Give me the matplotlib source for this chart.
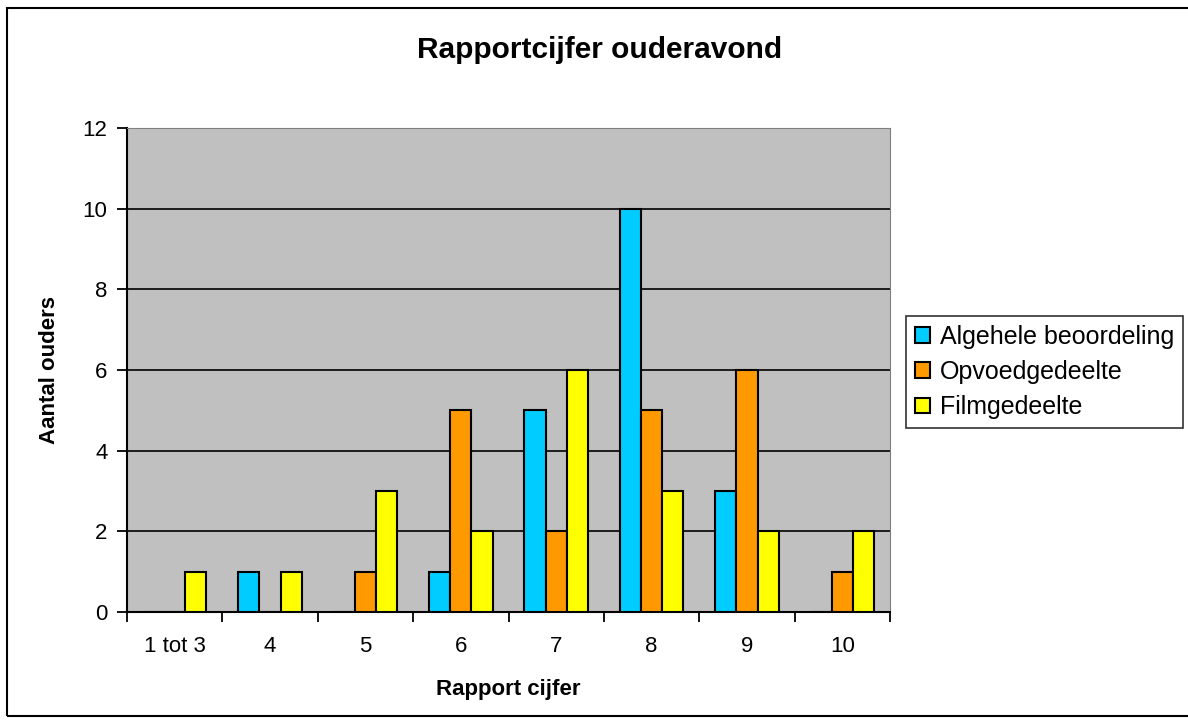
import numpy as np
import matplotlib
matplotlib.use('Agg')
import matplotlib.pyplot as plt
from matplotlib.patches import Rectangle

plt.rcParams['font.family'] = ['Liberation Sans', 'DejaVu Sans']

categorieen = ['1 tot 3', '4', '5', '6', '7', '8', '9', '10']
algehele = [0, 1, 0, 1, 5, 10, 3, 0]
opvoed = [0, 0, 1, 5, 2, 5, 6, 1]
film = [1, 1, 3, 2, 6, 3, 2, 2]

reeksen = [
    ('Algehele beoordeling', algehele, '#00CCFF'),
    ('Opvoedgedeelte', opvoed, '#FF9900'),
    ('Filmgedeelte', film, '#FFFF00'),
]

fig = plt.figure(figsize=(11.88, 7.22), dpi=100)
ax = fig.add_axes([127 / 1188, 1 - 612 / 722, (890 - 127) / 1188, (612 - 128) / 722])
ax.set_facecolor('#C0C0C0')

# rand om de hele grafiek
fig.patches.append(Rectangle((7 / 1188, 1 - 716 / 722), 1.2, (716 - 8) / 722,
                             transform=fig.transFigure, fill=False,
                             edgecolor='black', linewidth=1.5))

x = np.arange(len(categorieen))
w = 0.222
for i, (naam, waarden, kleur) in enumerate(reeksen):
    ax.bar(x + (i - 1) * w, waarden, width=w, color=kleur, edgecolor='black',
           linewidth=1.5, label=naam, zorder=3)

ax.set_ylim(0, 12)
ax.set_xlim(-0.5, len(categorieen) - 0.5)
ax.set_yticks(range(0, 13, 2))
ax.yaxis.grid(True, color='black', linewidth=1.2, zorder=1)
ax.set_axisbelow(True)

ax.set_xticks(x)
ax.set_xticklabels(categorieen, fontsize=16)
ax.set_xticks(np.arange(-0.5, len(categorieen), 1), minor=True)
ax.tick_params(axis='x', which='major', length=0, pad=17)
ax.tick_params(axis='x', which='minor', length=7, width=1.3, color='black')
ax.tick_params(axis='y', length=7, width=1.3, labelsize=16, pad=7)

ax.spines['left'].set_color('black')
ax.spines['left'].set_linewidth(1.5)
ax.spines['bottom'].set_color('black')
ax.spines['bottom'].set_linewidth(1.5)
ax.spines['top'].set_color('#808080')
ax.spines['right'].set_color('#808080')

ax.set_xlabel('Rapport cijfer', fontsize=16, fontweight='bold', labelpad=16)
ax.set_ylabel('Aantal ouders', fontsize=16, fontweight='bold', labelpad=16)

fig.text(600 / 1188, 1 - 50 / 722, 'Rapportcijfer ouderavond', ha='center', va='center',
         fontsize=21.5, fontweight='bold')

leg = fig.legend(loc='center left', bbox_to_anchor=(906 / 1188, 1 - 372 / 722),
                 fontsize=18, frameon=True, fancybox=False, handlelength=0.6,
                 handleheight=0.6, handletextpad=0.4, labelspacing=0.45,
                 borderpad=0.35, borderaxespad=0)
leg.get_frame().set_edgecolor('black')
leg.get_frame().set_linewidth(1.2)

fig.savefig('out.png', dpi=100)
